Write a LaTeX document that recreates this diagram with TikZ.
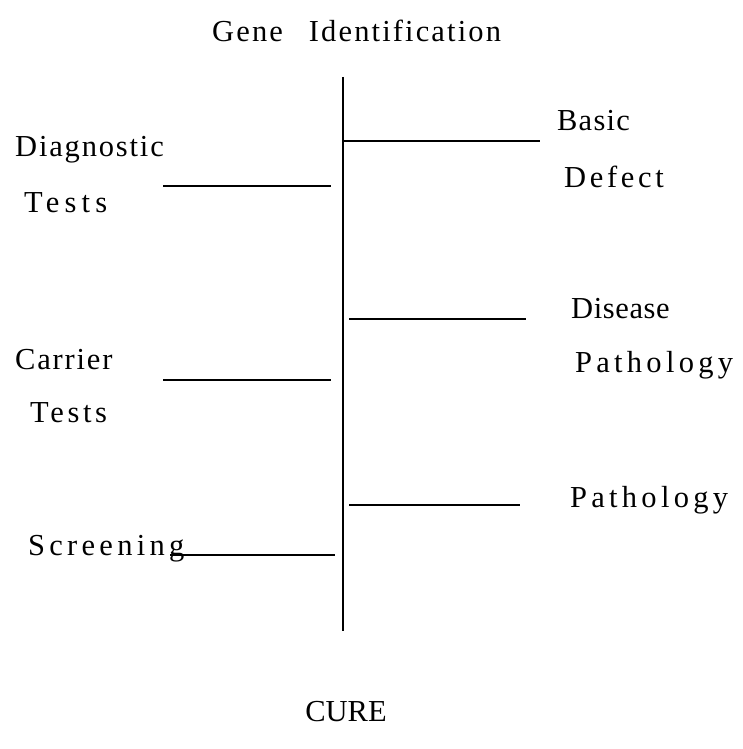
\documentclass[tikz,border=0pt]{standalone}
\usepackage{fontspec}
\setmainfont{Liberation Serif}
\begin{document}
\begin{tikzpicture}[x=1pt,y=-1pt,
  lbl/.style={anchor=base west,inner sep=0pt,font=\fontsize{30.5}{36}\selectfont},
  bar/.style={line width=2.2pt}]
\useasboundingbox (0,0) rectangle (742,749);
% title and end
\node[lbl] (gene) at (212,42) {\addfontfeature{LetterSpace=7}Gene\hspace{26pt}Identification};
\node[lbl,anchor=base] (cure) at (346,721) {CURE};
% axis
\coordinate (top) at (343,77);
\coordinate (bot) at (343,631);
\draw[bar] (top) -- (bot);
% right branches
\coordinate (r1a) at (343,141); \coordinate (r1b) at (540,141);
\coordinate (r2a) at (349,319); \coordinate (r2b) at (526,319);
\coordinate (r3a) at (349,505); \coordinate (r3b) at (520,505);
\draw[bar] (r1a) -- (r1b);
\draw[bar] (r2a) -- (r2b);
\draw[bar] (r3a) -- (r3b);
% left branches
\coordinate (l1a) at (163,186); \coordinate (l1b) at (331,186);
\coordinate (l2a) at (163,380); \coordinate (l2b) at (331,380);
\coordinate (l3a) at (170,555); \coordinate (l3b) at (335,555);
\draw[bar] (l1a) -- (l1b);
\draw[bar] (l2a) -- (l2b);
\draw[bar] (l3a) -- (l3b);
% left labels
\node[lbl] (diag) at (15,156) {\addfontfeature{LetterSpace=6}Diagnostic};
\node[lbl] (tests1) at (24,212) {\addfontfeature{LetterSpace=17}Tests};
\node[lbl] (carrier) at (15,369) {\addfontfeature{LetterSpace=6}Carrier};
\node[lbl] (tests2) at (30,422) {\addfontfeature{LetterSpace=12}Tests};
\node[lbl] (screen) at (28,555) {\addfontfeature{LetterSpace=14}Screening};
% right labels
\node[lbl] (basic) at (557,131) {\addfontfeature{LetterSpace=4}Basic};
\node[lbl] (defect) at (564,187) {\addfontfeature{LetterSpace=12}Defect};
\node[lbl] (disease) at (571,318) {\addfontfeature{LetterSpace=2}Disease};
\node[lbl] (path1) at (575,372) {\addfontfeature{LetterSpace=14}Pathology};
\node[lbl] (path2) at (570,507) {\addfontfeature{LetterSpace=14}Pathology};
\end{tikzpicture}
\end{document}
